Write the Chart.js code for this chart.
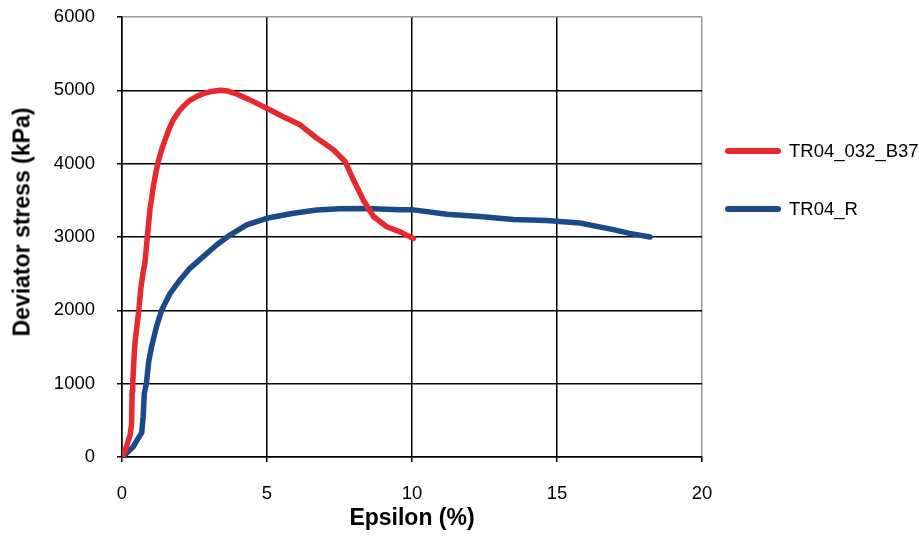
<!DOCTYPE html>
<html>
<head>
<meta charset="utf-8">
<script src="https://cdn.jsdelivr.net/npm/chart.js@4.4.1/dist/chart.umd.min.js"></script>
<style>
  html, body { margin: 0; padding: 0; background: #fff; }
  #wrap { position: relative; width: 919px; height: 536px; }
  #c { position: absolute; left: 0; top: 0; }
  .ytitle { position: absolute; left: 22px; top: 222px; transform: translate(-50%, -50%) rotate(-90deg);
    font: bold 23px "Liberation Sans", Arial, sans-serif; color: #000; white-space: nowrap; }
  .leg { position: absolute; left: 725px; height: 20px; display: flex; align-items: center;
    font: 18.5px "Liberation Sans", Arial, sans-serif; color: #000; white-space: nowrap; }
  .leg span.sw { display: inline-block; width: 56px; height: 6px; border-radius: 3px; margin-right: 8px; }
</style>
</head>
<body>
<div id="wrap">
  <canvas id="c" width="919" height="536"></canvas>
  <div class="ytitle">Deviator stress (kPa)</div>
  <div class="leg" style="top:141px"><span class="sw" style="background:#e8282f"></span>TR04_032_B37</div>
  <div class="leg" style="top:199px"><span class="sw" style="background:#1b4a8b"></span>TR04_R</div>
</div>
<script>
const seriesNames = ["TR04_032_B37", "TR04_R"];
const xTickValues = [0, 5, 10, 15, 20];
const yTickValues = [0, 1000, 2000, 3000, 4000, 5000, 6000];

const epsRed = [0, 0.12, 0.28, 0.33, 0.35, 0.37, 0.42, 0.46, 0.52, 0.58, 0.65, 0.72, 0.79, 0.85, 0.91, 0.97, 1.02, 1.08, 1.16, 1.25, 1.36, 1.48, 1.62, 1.77, 1.94, 2.11, 2.33, 2.57, 2.8, 3.03, 3.38, 3.65, 3.95, 4.41, 4.99, 5.56, 6.14, 6.71, 7.29, 7.69, 7.98, 8.32, 8.67, 9.13, 9.59, 10.05];
const stressRed = [0, 100, 300, 450, 900, 1000, 1400, 1600, 1800, 2000, 2300, 2500, 2650, 2900, 3150, 3400, 3520, 3690, 3860, 4030, 4180, 4320, 4470, 4600, 4700, 4780, 4860, 4915, 4955, 4980, 5000, 4990, 4950, 4870, 4755, 4640, 4530, 4350, 4190, 4030, 3780, 3505, 3280, 3140, 3070, 2980];

const epsBlue = [0, 0.1, 0.39, 0.55, 0.68, 0.73, 0.77, 0.84, 0.92, 1.02, 1.19, 1.37, 1.66, 2.0, 2.34, 2.8, 3.26, 3.72, 4.3, 4.99, 5.91, 6.71, 7.5, 8.44, 9.59, 10.05, 11.2, 12.34, 13.49, 14.64, 15.79, 16.94, 17.5, 18.21];
const stressBlue = [0, 30, 140, 250, 330, 550, 870, 1000, 1300, 1505, 1777, 2005, 2232, 2414, 2573, 2732, 2891, 3027, 3164, 3255, 3323, 3368, 3385, 3390, 3370, 3370, 3310, 3280, 3240, 3225, 3190, 3100, 3050, 3000];

const toPts = (xs, ys) => xs.map((x, i) => ({ x: x, y: ys[i] }));
const FONT = '"Liberation Sans", Arial, sans-serif';

new Chart(document.getElementById('c'), {
  type: 'scatter',
  data: {
    datasets: [
      { label: seriesNames[0], data: toPts(epsRed, stressRed), showLine: true, borderColor: '#e8282f', backgroundColor: '#e8282f',
        borderWidth: 5.5, pointRadius: 0, borderCapStyle: 'round', borderJoinStyle: 'round', tension: 0 },
      { label: seriesNames[1], data: toPts(epsBlue, stressBlue), showLine: true, borderColor: '#1b4a8b', backgroundColor: '#1b4a8b',
        borderWidth: 5.5, pointRadius: 0, borderCapStyle: 'round', borderJoinStyle: 'round', tension: 0 }
    ]
  },
  options: {
    responsive: false,
    animation: false,
    devicePixelRatio: 1,
    layout: { padding: { top: 17, right: 217, left: 0, bottom: 0 } },
    plugins: { legend: { display: false }, tooltip: { enabled: false } },
    scales: {
      x: {
        type: 'linear', min: 0, max: 20,
        afterBuildTicks: s => { s.ticks = xTickValues.map(v => ({ value: v })); },
        afterFit: s => { s.height = 79; s.paddingLeft = 0; s.paddingRight = 0; },
        ticks: { color: '#000', font: { family: FONT, size: 18.5 }, padding: 21, callback: v => String(v) },
        grid: { color: c => (c.tick && c.tick.value === 20) ? '#9a9a9a' : '#000', lineWidth: 1.5, tickLength: 5, tickColor: '#000', drawTicks: true },
        border: { color: '#000', width: 1.5 },
        title: { display: true, text: 'Epsilon (%)', color: '#000', font: { family: FONT, size: 23, weight: 'bold' }, padding: { top: 0, bottom: 4 } }
      },
      y: {
        type: 'linear', min: 0, max: 6000,
        afterBuildTicks: s => { s.ticks = yTickValues.map(v => ({ value: v })); },
        afterFit: s => { s.width = 122; s.paddingTop = 0; s.paddingBottom = 0; },
        ticks: { color: '#000', font: { family: FONT, size: 18.5 }, padding: 22, callback: v => String(v) },
        grid: { color: c => (c.tick && c.tick.value === 6000) ? '#9a9a9a' : '#000', lineWidth: 1.5, tickLength: 5, tickColor: '#000', drawTicks: true },
        border: { color: '#000', width: 1.5 }
      }
    }
  }
});
</script>
</body>
</html>
